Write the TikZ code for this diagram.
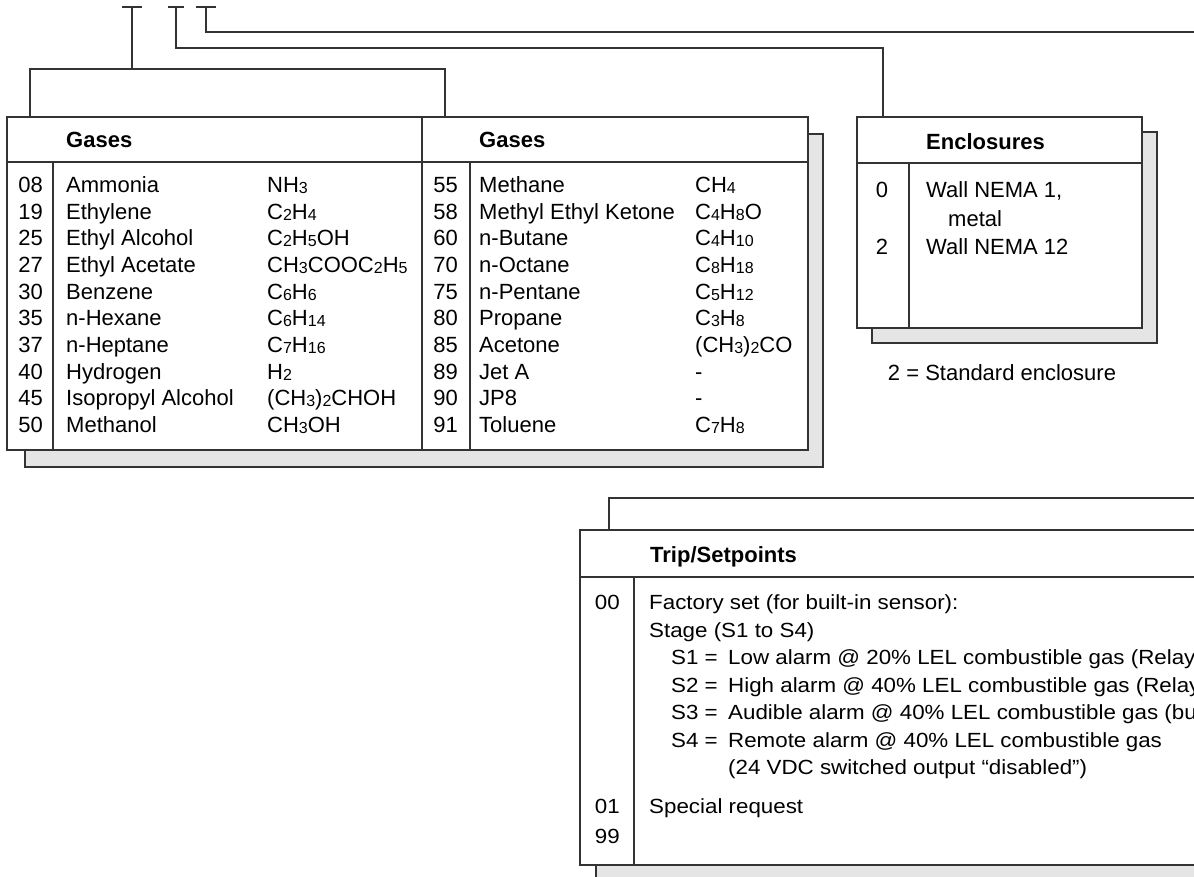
\documentclass[tikz,border=0pt]{standalone}
\usepackage{fontspec}
\setmainfont{Liberation Sans}
\newfontfamily\tripfont[FakeStretch=1.09]{Liberation Sans}
\newcommand{\sbs}[1]{\raisebox{-1pt}{\fontsize{16}{16}\selectfont #1}}
\tikzset{
  ln/.style={draw=black!80, line width=1.3pt},
  shadowbox/.style={draw=black!80, line width=1.3pt, fill=black!10},
  tablebox/.style={draw=black!80, line width=1.3pt, fill=white},
  txt/.style={anchor=base west, inner sep=0pt, font=\fontsize{22}{26}\selectfont},
  numr/.style={anchor=base east, inner sep=0pt, font=\fontsize{22}{26}\selectfont},
  numc/.style={anchor=base, inner sep=0pt, font=\fontsize{22}{26}\selectfont},
  hdr/.style={anchor=base west, inner sep=0pt, font=\bfseries\fontsize{22}{26}\selectfont},
  trip/.style={anchor=base west, inner sep=0pt, font=\tripfont\fontsize{20.5}{26}\selectfont},
  tripnum/.style={anchor=base east, inner sep=0pt, font=\tripfont\fontsize{20.5}{26}\selectfont}
}
\begin{document}
\begin{tikzpicture}[x=1pt,y=-1pt]
\useasboundingbox (0,0) rectangle (1194,876);
\clip (0,0) rectangle (1194,876);

% ---------- shadows ----------
\draw[shadowbox] (25,134) rectangle (823,467);
\draw[shadowbox] (872,132) rectangle (1157,343);
\draw[shadowbox] (596,546) rectangle (1220,900);

% ---------- Gases table ----------
\draw[tablebox] (7,117) rectangle (808,450);
\draw[ln] (7,162) -- (808,162);
\draw[ln] (422,117) -- (422,450);
\draw[ln] (53,162) -- (53,450);
\draw[ln] (470,162) -- (470,450);
\node[hdr] (gh1) at (66,147.5) {Gases};
\node[hdr] (gh2) at (479,147.5) {Gases};

\foreach \n/\nm/\f [count=\k from 0] in {
  08/Ammonia/NH\sbs{3},
  19/Ethylene/C\sbs{2}H\sbs{4},
  25/Ethyl Alcohol/C\sbs{2}H\sbs{5}OH,
  27/Ethyl Acetate/CH\sbs{3}COOC\sbs{2}H\sbs{5},
  30/Benzene/C\sbs{6}H\sbs{6},
  35/n-Hexane/C\sbs{6}H\sbs{14},
  37/n-Heptane/C\sbs{7}H\sbs{16},
  40/Hydrogen/H\sbs{2},
  45/Isopropyl Alcohol/(CH\sbs{3})\sbs{2}CHOH,
  50/Methanol/CH\sbs{3}OH}{
  \node[numr] (ln\k) at (43,{192.6+26.67*\k}) {\n};
  \node[txt] (lg\k) at (66,{192.6+26.67*\k}) {\nm};
  \node[txt] (lf\k) at (267,{192.6+26.67*\k}) {\f};
}
\foreach \n/\nm/\f [count=\k from 0] in {
  55/Methane/CH\sbs{4},
  58/Methyl Ethyl Ketone/C\sbs{4}H\sbs{8}O,
  60/n-Butane/C\sbs{4}H\sbs{10},
  70/n-Octane/C\sbs{8}H\sbs{18},
  75/n-Pentane/C\sbs{5}H\sbs{12},
  80/Propane/C\sbs{3}H\sbs{8},
  85/Acetone/(CH\sbs{3})\sbs{2}CO,
  89/Jet A/-,
  90/JP8/-,
  91/Toluene/C\sbs{7}H\sbs{8}}{
  \node[numr] (rn\k) at (458,{192.6+26.67*\k}) {\n};
  \node[txt] (rg\k) at (479,{192.6+26.67*\k}) {\nm};
  \node[txt] (rf\k) at (695,{192.6+26.67*\k}) {\f};
}

% ---------- Enclosures table ----------
\draw[tablebox] (857,117) rectangle (1142,328);
\draw[ln] (857,163) -- (1142,163);
\draw[ln] (909,163) -- (909,328);
\node[hdr] (eh) at (926,149) {Enclosures};
\node[numc] (e0n) at (882,197.5) {0};
\node[txt] (e0t) at (926,197.5) {Wall NEMA 1,};
\node[txt] (e0m) at (948,226) {metal};
\node[numc] (e2n) at (882,254.5) {2};
\node[txt] (e2t) at (926,254.5) {Wall NEMA 12};
\node[anchor=base, inner sep=0pt, font=\fontsize{22}{26}\selectfont] (std) at (1002,380) {2 = Standard enclosure};

% ---------- Trip/Setpoints table ----------
\draw[tablebox] (580,530) rectangle (1220,865);
\draw[ln] (580,577) -- (1220,577);
\draw[ln] (634,577) -- (634,865);
\node[hdr] (th) at (650,562) {Trip/Setpoints};
\node[tripnum] (t00) at (620,609.5) {00};
\node[trip] (tf) at (649,609.5) {Factory set (for built-in sensor):};
\node[trip] (ts) at (649,637) {Stage (S1 to S4)};
\node[trip] (ts1) at (671,664.5) {\makebox[57pt][l]{S1 =}Low alarm @ 20\% LEL combustible gas (Relay};
\node[trip] (ts2) at (671,692) {\makebox[57pt][l]{S2 =}High alarm @ 40\% LEL combustible gas (Relay};
\node[trip] (ts3) at (671,719.5) {\makebox[57pt][l]{S3 =}Audible alarm @ 40\% LEL combustible gas (bu};
\node[trip] (ts4) at (671,747) {\makebox[57pt][l]{S4 =}Remote alarm @ 40\% LEL combustible gas};
\node[trip] (ts5) at (728,774.5) {(24 VDC switched output “disabled”)};
\node[tripnum] (t01) at (620,813) {01};
\node[trip] (tsr) at (649,813) {Special request};
\node[tripnum] (t99) at (620,843) {99};

% ---------- connectors ----------
\coordinate (t1a) at (122,7);
\coordinate (t1b) at (142,7);
\coordinate (t1m) at (132,7);
\coordinate (t2a) at (168,7);
\coordinate (t2b) at (184,7);
\coordinate (t2m) at (176,7);
\coordinate (t3a) at (196,7);
\coordinate (t3b) at (216,7);
\coordinate (t3m) at (206,7);
\coordinate (gbar) at (132,69);
\coordinate (gL) at (30,117);
\coordinate (gR) at (445,117);
\coordinate (ecorner) at (883,48);
\coordinate (etop) at (883,117);
\coordinate (t3end) at (1220,32);
\coordinate (tripTop) at (609,530);
\coordinate (tripEnd) at (1220,498);

\draw[ln] (t1a) -- (t1b);
\draw[ln] (t2a) -- (t2b);
\draw[ln] (t3a) -- (t3b);
\draw[ln] (t1m) -- (gbar);
\draw[ln] (gL) |- (gbar) -| (gR);
\draw[ln] (t2m) |- (ecorner) -- (etop);
\draw[ln] (t3m) |- (t3end);
\draw[ln] (tripTop) |- (tripEnd);
\end{tikzpicture}
\end{document}
